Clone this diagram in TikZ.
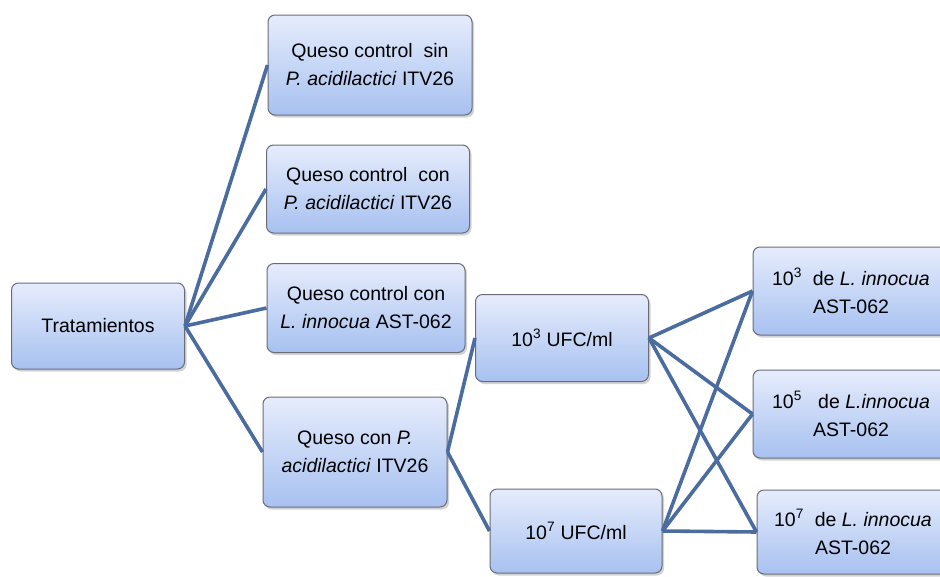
\documentclass[tikz,border=0pt]{standalone}
\usepackage{fontspec}
\setmainfont{Liberation Sans}
\usetikzlibrary{shadows}
\definecolor{boxtop}{HTML}{E6ECFC}
\definecolor{boxbottom}{HTML}{A7C1F0}
\definecolor{boxedge}{HTML}{6A6C78}
\definecolor{linkblue}{HTML}{4A6C9E}
\tikzset{
  box/.style={draw=boxedge, line width=1pt, rounded corners=7pt, top color=boxtop, bottom color=boxbottom,
    align=center, inner sep=0pt, font=\fontsize{19.5}{28}\selectfont,
    drop shadow={shadow xshift=2pt, shadow yshift=-2.5pt, opacity=0.35}},
  link/.style={draw=linkblue, line width=3.6pt}
}
\begin{document}
\begin{tikzpicture}[x=1pt,y=-1pt]
\useasboundingbox (0,0) rectangle (940,576);
% first level
\node[box, minimum width=173pt, minimum height=86pt] (trat) at (98,326) {Tratamientos};
\node[box, minimum width=204pt, minimum height=100pt] (qsin) at (370,65) {Queso control\ \ sin\\\textit{P. acidilactici} ITV26};
\node[box, minimum width=203pt, minimum height=88pt] (qcon) at (368,189) {Queso control\ \ con\\\textit{P. acidilactici} ITV26};
\node[box, minimum width=198pt, minimum height=89pt] (qlis) at (366,308) {Queso control con\\\textit{L. innocua} AST-062};
\node[box, minimum width=184pt, minimum height=110pt] (qped) at (355,452) {Queso con \textit{P.}\\\textit{acidilactici} ITV26};
% second level
\node[box, minimum width=173pt, minimum height=87pt] (ufctres) at (562,338) {10\textsuperscript{3} UFC/ml};
\node[box, minimum width=172pt, minimum height=84pt] (ufcsiete) at (576,531) {10\textsuperscript{7} UFC/ml};
% third level
\node[box, minimum width=196pt, minimum height=88pt] (listres) at (851,291) {10\textsuperscript{3}\ \ de \textit{L. innocua}\\AST-062};
\node[box, minimum width=196pt, minimum height=88pt] (liscinco) at (851,414) {10\textsuperscript{5}\ \ \ de \textit{L.innocua}\\AST-062};
\node[box, minimum width=192pt, minimum height=84pt] (lissiete) at (853,532) {10\textsuperscript{7}\ \ de \textit{L. innocua}\\AST-062};
% connectors
\foreach \n in {qsin,qcon,qlis,qped}
  \draw[link] (trat.east) -- (\n.west);
\foreach \n in {ufctres,ufcsiete}
  \draw[link] (qped.east) -- (\n.west);
\foreach \m in {ufctres,ufcsiete}
  \foreach \n in {listres,liscinco,lissiete}
    \draw[link] (\m.east) -- (\n.west);
\end{tikzpicture}
\end{document}
